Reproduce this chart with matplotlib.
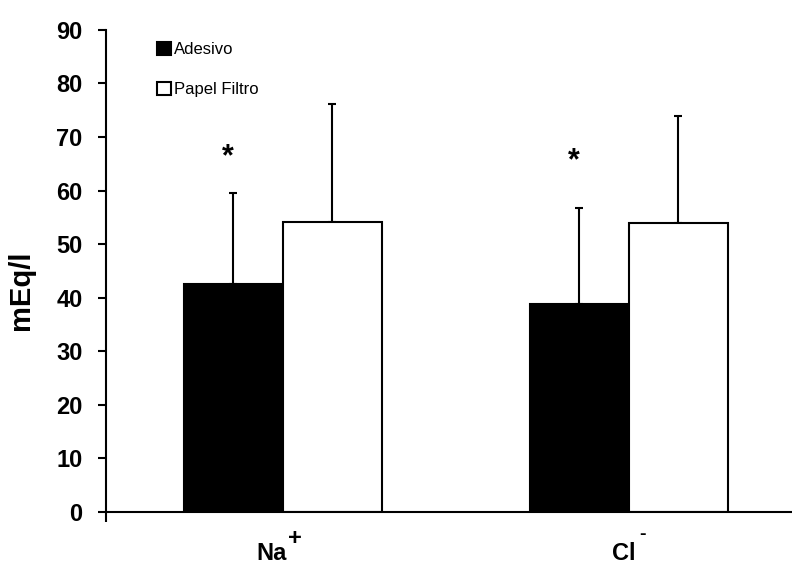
import numpy as np
import matplotlib.pyplot as plt

plt.rcParams['font.family'] = ['Liberation Sans', 'DejaVu Sans']

# ── Dados ─────────────────────────────────────────────────
ions = ['Na', 'Cl']
charges = ['+', '-']
series = ['Adesivo', 'Papel Filtro']
adesivo = [42.6, 38.8]
adesivo_sd = [16.9, 18.0]
papel = [54.2, 54.0]
papel_sd = [21.9, 20.0]
star_y = [64.7, 63.9]   # asterisco (diferença significativa)

# ── Gráfico ───────────────────────────────────────────────
fig = plt.figure(figsize=(7.92, 5.65), dpi=100)
ax = fig.add_axes([0.134, 0.094, 0.874, 0.853])

x = np.arange(len(ions))
w = 0.286

ax.bar(x - w/2, adesivo, w, color='black', edgecolor='black', lw=1.5,
       label=series[0], zorder=2)
ax.bar(x + w/2, papel, w, color='white', edgecolor='black', lw=1.5,
       label=series[1], zorder=2)
ax.errorbar(x - w/2, adesivo, yerr=[np.zeros(2), adesivo_sd], fmt='none',
            ecolor='black', elinewidth=1.5, capsize=3, capthick=1.5, zorder=1)
ax.errorbar(x + w/2, papel, yerr=[np.zeros(2), papel_sd], fmt='none',
            ecolor='black', elinewidth=1.5, capsize=3, capthick=1.5, zorder=1)

for xi, yi in zip(x - w/2, star_y):
    ax.text(xi - 0.015, yi, '*', ha='center', va='baseline',
            fontsize=22, fontweight='bold')

ax.set_xlim(-0.51, 1.49)
ax.set_ylim(0, 90)
ax.set_yticks(np.arange(0, 91, 10))
ax.set_xticks(x, [''] * len(x))
ax.set_xticks([-0.51], minor=True)
ax.tick_params(axis='x', which='major', length=0)
ax.tick_params(axis='x', which='minor', length=7, width=1.5, direction='out')
ax.tick_params(axis='y', length=6, width=1.5, direction='out', labelsize=17,
               pad=11)
for lab in ax.get_yticklabels():
    lab.set_fontweight('bold')

# rótulos dos íons com carga sobrescrita
base_dx = [-7.9, -3.6]
sup_dx = [4.0, 7.5]
sup_dy = [-24.0, -19.5]
sup_fs = [17, 14]
for xi, ion, ch, bdx, sdx, sdy, sfs in zip(x, ions, charges, base_dx,
                                         sup_dx, sup_dy, sup_fs):
    ax.annotate(ion, xy=(xi, 0), xycoords=('data', 'axes fraction'),
                xytext=(bdx, -34.5), textcoords='offset points',
                ha='center', va='baseline', fontsize=17, fontweight='bold',
                annotation_clip=False)
    ax.annotate(ch, xy=(xi, 0), xycoords=('data', 'axes fraction'),
                xytext=(sdx, sdy), textcoords='offset points',
                ha='left', va='baseline', fontsize=sfs, fontweight='bold',
                annotation_clip=False)

ax.set_ylabel('mEq/l', fontsize=21, fontweight='bold')
ax.yaxis.set_label_coords(-0.103, 0.46)

for s in ['top', 'right']:
    ax.spines[s].set_visible(False)
for s in ['left', 'bottom']:
    ax.spines[s].set_linewidth(1.5)

ax.legend(loc='upper left', bbox_to_anchor=(0.074, 0.975), frameon=False,
          fontsize=12, handlelength=0.8, handleheight=0.8,
          handletextpad=0.2, labelspacing=1.5, borderpad=0,
          borderaxespad=0)

plt.savefig('out.png', dpi=100)
